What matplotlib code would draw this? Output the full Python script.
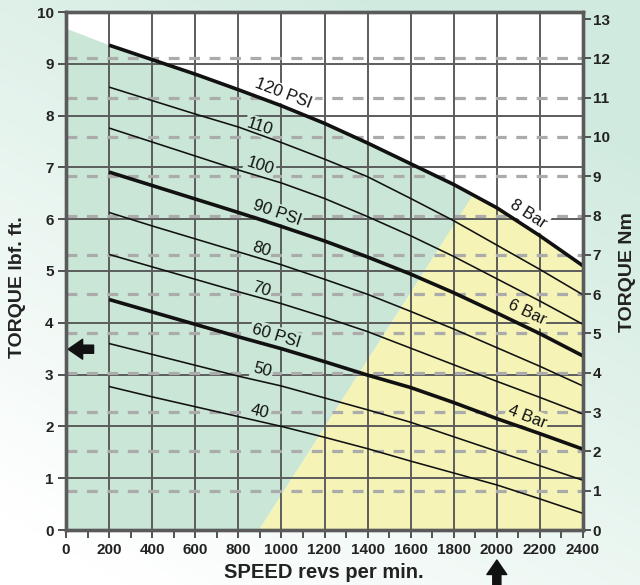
import numpy as np
import matplotlib
matplotlib.use('Agg')
import matplotlib.pyplot as plt
from matplotlib.patches import Polygon

plt.rcParams['font.family'] = ['Liberation Sans', 'DejaVu Sans']

# ---------------- data ----------------
SPEED = [200, 400, 600, 800, 1000, 1200, 1400, 1600, 1800, 2000, 2200, 2400]
T120 = [9.36, 9.08, 8.80, 8.50, 8.19, 7.85, 7.47, 7.07, 6.67, 6.22, 5.68, 5.10]
T110 = [8.55, 8.29, 8.03, 7.78, 7.48, 7.16, 6.82, 6.40, 5.97, 5.50, 5.03, 4.54]
T100 = [7.76, 7.49, 7.22, 6.95, 6.70, 6.40, 6.05, 5.68, 5.28, 4.85, 4.42, 3.97]
T90 = [6.91, 6.65, 6.39, 6.13, 5.86, 5.58, 5.27, 4.94, 4.58, 4.19, 3.79, 3.36]
T80 = [6.13, 5.87, 5.62, 5.37, 5.12, 4.84, 4.55, 4.22, 3.88, 3.52, 3.16, 2.78]
T70 = [5.32, 5.08, 4.84, 4.60, 4.37, 4.11, 3.83, 3.51, 3.19, 2.87, 2.56, 2.24]
T60 = [4.45, 4.21, 3.97, 3.73, 3.50, 3.25, 2.99, 2.75, 2.46, 2.15, 1.86, 1.56]
T50 = [3.60, 3.39, 3.18, 2.97, 2.78, 2.55, 2.32, 2.08, 1.80, 1.52, 1.24, 0.96]
T40 = [2.77, 2.57, 2.38, 2.19, 2.00, 1.79, 1.57, 1.33, 1.10, 0.87, 0.60, 0.32]

SERIES = [T40, T50, T60, T70, T80, T90, T100, T110, T120]
PSI_LABELS = ['40', '50', '60 PSI', '70', '80', '90 PSI', '100', '110', '120 PSI']
HEAVY = [False, False, True, False, False, True, False, False, True]
BAR_LABELS = ['4 Bar', '6 Bar', '8 Bar']

# envelope of green (air) region
GREEN_TOP_AT_ZERO = 9.68
BOUNDARY_RPM = [896, 1890]

X_TICKS = list(range(0, 2401, 200))
Y_TICKS = list(range(0, 11))
NM_TICKS = list(range(0, 14))
NM_MAX = 13.18

GREEN = '#c9e6d6'
YELLOW = '#f5f3b6'
GRID = '#5c5c5c'
DASH = '#ababab'

# ---------------- figure ----------------
fig = plt.figure(figsize=(6.40, 5.85), dpi=100)

# background gradient
bg = fig.add_axes([0, 0, 1, 1], zorder=-10)
yy, xx = np.mgrid[0:1:200j, 0:1:200j]
t = np.clip((1 - yy) * 0.8 + xx * 0.5 - 0.1, 0, 1)
mint = np.array([0.82, 0.92, 0.875])
img = (1 - t[..., None]) + t[..., None] * mint
bg.imshow(img, extent=[0, 1, 0, 1], aspect='auto', origin='upper')
bg.axis('off')

ax = fig.add_axes([66 / 640, 1 - 530 / 585, 517 / 640, 518 / 585])
ax.set_xlim(0, 2400)
ax.set_ylim(0, 10)
ax.set_facecolor('white')

# regions
x_int = BOUNDARY_RPM[1]
y_int = float(np.interp(x_int, SPEED, T120))
green_pts = [(0, 0), (0, GREEN_TOP_AT_ZERO)]
green_pts += [(s, v) for s, v in zip(SPEED, T120) if s < x_int]
green_pts += [(x_int, y_int), (BOUNDARY_RPM[0], 0)]
ax.add_patch(Polygon(green_pts, closed=True, facecolor=GREEN, edgecolor='none', zorder=0.5))
yellow_pts = [(BOUNDARY_RPM[0], 0), (x_int, y_int)]
yellow_pts += [(s, v) for s, v in zip(SPEED, T120) if s > x_int]
yellow_pts += [(2400, 0)]
ax.add_patch(Polygon(yellow_pts, closed=True, facecolor=YELLOW, edgecolor='none', zorder=0.5))

# solid grid
for xv in X_TICKS[1:-1]:
    ax.axvline(xv, color=GRID, lw=1.4, zorder=1)
for yv in Y_TICKS[1:-1]:
    ax.axhline(yv, color=GRID, lw=1.4, zorder=1)

# twin axis (Nm)
ax2 = ax.twinx()
ax2.set_ylim(0, NM_MAX)
for nv in NM_TICKS[1:-1]:
    ax.axhline(nv * 10 / NM_MAX, color=DASH, lw=2.3, dashes=(3.4, 3.0), zorder=2)

# curves
for vals, heavy in zip(SERIES, HEAVY):
    ax.plot(SPEED, vals, color='#111111', lw=2.6 if heavy else 1.15,
            solid_capstyle='butt', zorder=5)

# labels on curves
psi_pos = [(900, 2.28, -13), (910, 3.09, -15), (975, 3.75, -17), (905, 4.65, -17),
           (905, 5.42, -17), (980, 6.12, -19), (900, 7.03, -18), (900, 7.78, -18),
           (1007, 8.42, -21)]
psi_bg = [GREEN] * 8 + ['white']
for lab, (px, py, rot), fc in zip(PSI_LABELS, psi_pos, psi_bg):
    ax.text(px, py, lab, fontsize=12, rotation=rot, ha='center', va='center',
            rotation_mode='anchor', color='#111111', zorder=4,
            bbox=dict(boxstyle='square,pad=0.12', fc=fc, ec='none'))
bar_pos = [(2140, 2.18, -21), (2140, 4.21, -25), (2145, 6.10, -33)]
bar_bg = [YELLOW, YELLOW, 'white']
for lab, (px, py, rot), fc in zip(BAR_LABELS, bar_pos, bar_bg):
    ax.text(px, py, lab, fontsize=12, rotation=rot, ha='center', va='center',
            rotation_mode='anchor', color='#111111', zorder=4,
            bbox=dict(boxstyle='square,pad=0.12', fc=fc, ec='none'))

# spines & ticks
for a in (ax, ax2):
    for sp in a.spines.values():
        sp.set_color('#5a5a5a')
        sp.set_linewidth(2.4)
ax.set_xticks(X_TICKS)
ax.set_xticks(range(100, 2400, 200), minor=True)
ax.set_yticks(Y_TICKS)
ax2.set_yticks(NM_TICKS)
ax.tick_params(axis='x', which='both', direction='out', length=6, width=1.3,
               color='#444444', pad=3, labelsize=11)
ax.tick_params(axis='y', which='both', direction='out', length=6, width=1.3,
               color='#444444', pad=3, labelsize=11)
ax2.tick_params(axis='y', direction='out', length=6, width=1.3,
                color='#444444', pad=1, labelsize=11)
for lbl in ax.get_xticklabels() + ax.get_yticklabels() + ax2.get_yticklabels():
    lbl.set_fontweight('bold')
    lbl.set_color('#222222')

# axis titles
fig.text(324 / 640, 1 - 572 / 585, 'SPEED revs per min.', ha='center', va='center',
         fontsize=14.5, fontweight='bold', color='#222222')
fig.text(18 / 640, 1 - 287 / 585, 'TORQUE lbf. ft.', ha='center', va='center',
         rotation=90, fontsize=14, fontweight='bold', color='#222222')
fig.text(627 / 640, 1 - 272 / 585, 'TORQUE Nm', ha='center', va='center',
         rotation=90, fontsize=14, fontweight='bold', color='#222222')

# arrows
ax.annotate('', xy=(10, 3.49), xytext=(128, 3.49),
            arrowprops=dict(arrowstyle='simple,head_length=0.8,head_width=1.1,tail_width=0.45',
                            color='#111111', mutation_scale=13, shrinkA=0, shrinkB=0),
            zorder=6)
ax.annotate('', xy=(2000, -0.058), xycoords=('data', 'axes fraction'),
            xytext=(2000, -0.115), textcoords=('data', 'axes fraction'),
            arrowprops=dict(arrowstyle='simple,head_length=0.8,head_width=1.1,tail_width=0.45',
                            color='#111111', mutation_scale=13, shrinkA=0, shrinkB=0),
            annotation_clip=False)

fig.savefig('out.png', dpi=100)
